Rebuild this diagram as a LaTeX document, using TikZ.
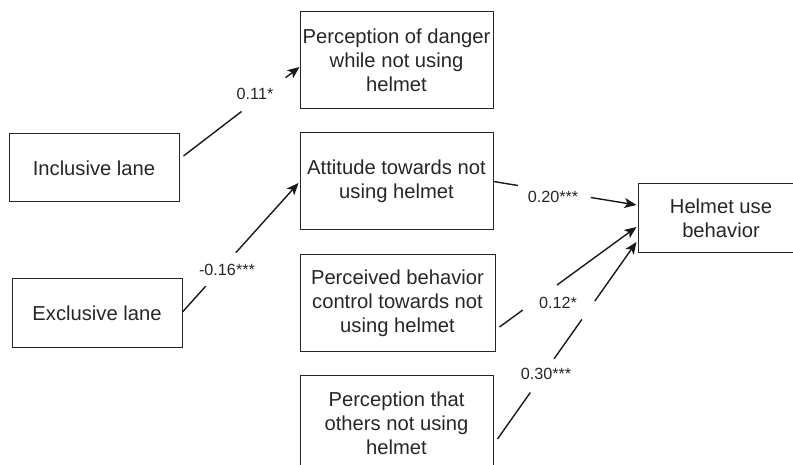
\documentclass[tikz,border=0pt]{standalone}
\usepackage{fontspec}
\setmainfont{Liberation Sans}
\usetikzlibrary{calc,arrows.meta}
\begin{document}
\begin{tikzpicture}[x=1pt,y=-1pt,
  box/.style={draw=black!85,line width=1pt,inner sep=0pt,align=center,
    text=black!85,font=\fontsize{20.2}{24}\selectfont},
  conn/.style={line width=1.4pt,black!90},
  arr/.style={conn,-{Stealth[length=12pt,width=10pt,inset=3pt]}},
  lbl/.style={inner sep=0pt,text=black!85,font=\fontsize{16.2}{18}\selectfont}]
\useasboundingbox (0,0) rectangle (793,465);
\clip (0,0) rectangle (793,465);
% boxes
\node[box,minimum width=170pt,minimum height=68pt] (incl) at (94,168) {Inclusive lane};
\node[box,minimum width=170pt,minimum height=68pt] (excl) at (97,313) {Exclusive lane};
\node[box,minimum width=193pt,minimum height=97pt] (dang) at (396.5,60.5) {Perception of danger\\while not using\\helmet};
\node[box,minimum width=193pt,minimum height=97pt] (att) at (396.5,181.5) {Attitude towards not\\using helmet};
\node[box,minimum width=195pt,minimum height=96pt] (pbc) at (397.5,303) {Perceived behavior\\control towards not\\using helmet};
\node[box,minimum width=193pt,minimum height=97pt] (oth) at (396.5,423.5) {Perception that\\others not using\\helmet};
\node[box,minimum width=166pt,minimum height=69pt] (helm) at (721,218.5) {Helmet use\\behavior};
% connector endpoints
\coordinate (s1) at ($(incl.east)+(4,-12)$);
\coordinate (e1) at ($(dang.west)+(0,6.5)$);
\coordinate (s2) at ($(excl.east)+(0,-1)$);
\coordinate (e2) at ($(att.west)+(-1,1.5)$);
\coordinate (s3) at (att.east);
\coordinate (e3) at ($(helm.west)+(-1,-13.5)$);
\coordinate (s4) at ($(pbc.east)+(4,24)$);
\coordinate (e4) at ($(helm.west)+(-1,8.5)$);
\coordinate (s5) at ($(oth.east)+(4,15.5)$);
\coordinate (e5) at ($(helm.west)+(-1,23.5)$);
% connectors with gaps for labels
\draw[conn] (s1) -- ($(s1)!0.50!(e1)$);
\draw[arr] ($(s1)!0.88!(e1)$) -- (e1);
\draw[conn] (s2) -- ($(s2)!0.20!(e2)$);
\draw[arr] ($(s2)!0.46!(e2)$) -- (e2);
\draw[conn] (s3) -- ($(s3)!0.17!(e3)$);
\draw[arr] ($(s3)!0.68!(e3)$) -- (e3);
\draw[conn] (s4) -- ($(s4)!0.17!(e4)$);
\draw[arr] ($(s4)!0.42!(e4)$) -- (e4);
\draw[conn] (s5) -- ($(s5)!0.236!(e5)$);
\draw[conn] ($(s5)!0.407!(e5)$) -- ($(s5)!0.607!(e5)$);
\draw[arr] ($(s5)!0.70!(e5)$) -- (e5);
% labels
\node[lbl] (l1) at (255,94) {0.11*};
\node[lbl] (l2) at (227,270) {-0.16***};
\node[lbl] (l3) at (553,197) {0.20***};
\node[lbl] (l4) at (558,303) {0.12*};
\node[lbl] (l5) at (546,374) {0.30***};
\end{tikzpicture}
\end{document}
